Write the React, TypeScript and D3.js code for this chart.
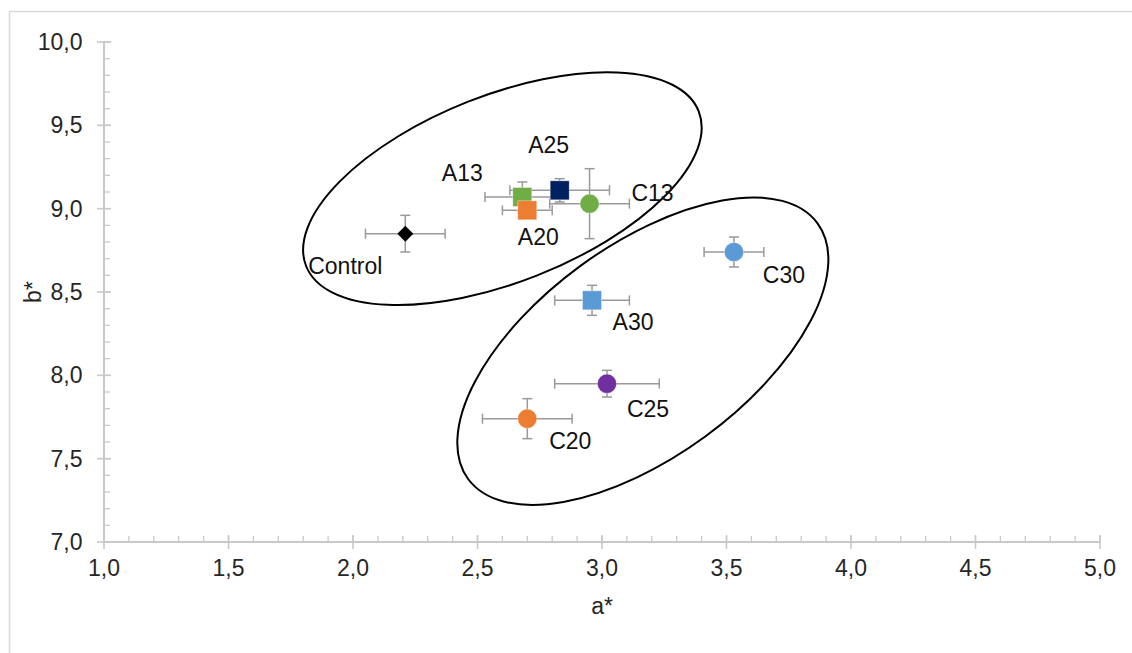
import React from "react";
import * as d3 from "d3";

// Sample names and their CIELab colour coordinates (mean ± SD)
const samples = ["Control", "A13", "A20", "A25", "C13", "A30", "C20", "C25", "C30"];
const aValues = [2.21, 2.68, 2.70, 2.83, 2.95, 2.96, 2.70, 3.02, 3.53];
const bValues = [8.85, 9.07, 8.99, 9.11, 9.03, 8.45, 7.74, 7.95, 8.74];
const aErrors = [0.16, 0.15, 0.10, 0.20, 0.16, 0.15, 0.18, 0.21, 0.12];
const bErrors = [0.11, 0.09, 0.04, 0.07, 0.21, 0.09, 0.12, 0.08, 0.09];

const xTicks = [1.0, 1.5, 2.0, 2.5, 3.0, 3.5, 4.0, 4.5, 5.0];
const yTicks = [7.0, 7.5, 8.0, 8.5, 9.0, 9.5, 10.0];

// Marker look per sample
const shapes = ["diamond", "square", "square", "square", "circle", "square", "circle", "circle", "circle"];
const colors = ["#000000", "#70ad47", "#ed7d31", "#002060", "#70ad47", "#5b9bd5", "#ed7d31", "#7030a0", "#5b9bd5"];
// Label placement relative to each marker (px)
const labelDx = [-60, -60, 11, -11, 63, 41, 43, 41, 50];
const labelDy = [32, -24, 27, -45, -11, 22, 22, 25, 23];

// Grouping outlines: centre in data units, semi-axes in px, rotation in degrees
const groups = [
  { a: 2.6, b: 9.12, rx: 211, ry: 93.5, angle: -21.5 },
  { a: 3.164, b: 8.145, rx: 216.5, ry: 105.7, angle: -36.2 },
];

const W = 1132;
const H = 653;
const fmt = (v: number) => v.toFixed(1).replace(".", ",");

export default function App() {
  const x = d3.scaleLinear().domain([1, 5]).range([104, 1100]);
  const y = d3.scaleLinear().domain([7, 10]).range([542, 42]);
  const minorX = d3.range(1, 5.0001, 0.1).map((v) => +v.toFixed(1));
  const minorY = d3.range(7, 10.0001, 0.1).map((v) => +v.toFixed(1));
  const axisColor = "#c8c8c8";
  const errColor = "#9a9a9a";
  const textColor = "#262626";
  const font = "'Liberation Sans', Arial, sans-serif";
  const cap = 5;

  return (
    <svg
      width={W}
      height={H}
      style={{ position: "absolute", left: 0, top: 0, background: "#fff" }}
      fontFamily={font}
    >
      <rect x={9.5} y={11.5} width={W + 10} height={H + 10} fill="none" stroke="#d9d9d9" strokeWidth={1.5} />

      {/* minor ticks */}
      {minorX.map((v, i) => (
        <line key={"mx" + i} x1={x(v)} x2={x(v)} y1={y(7) - 6} y2={y(7)} stroke={axisColor} strokeWidth={1.3} />
      ))}
      {minorY.map((v, i) => (
        <line key={"my" + i} x1={x(1)} x2={x(1) + 6} y1={y(v)} y2={y(v)} stroke={axisColor} strokeWidth={1.3} />
      ))}
      {/* major ticks */}
      {xTicks.map((v) => (
        <line key={"tx" + v} x1={x(v)} x2={x(v)} y1={y(7) - 7} y2={y(7) + 7} stroke={axisColor} strokeWidth={1.6} />
      ))}
      {yTicks.map((v) => (
        <line key={"ty" + v} x1={x(1) - 7} x2={x(1) + 7} y1={y(v)} y2={y(v)} stroke={axisColor} strokeWidth={1.6} />
      ))}
      {/* axis lines */}
      <line x1={x(1)} x2={x(5)} y1={y(7)} y2={y(7)} stroke={axisColor} strokeWidth={2} />
      <line x1={x(1)} x2={x(1)} y1={y(7)} y2={y(10)} stroke={axisColor} strokeWidth={2} />

      {/* tick labels */}
      {xTicks.map((v) => (
        <text key={"lx" + v} x={x(v)} y={y(7) + 34} textAnchor="middle" fontSize={23} fill={textColor}>
          {fmt(v)}
        </text>
      ))}
      {yTicks.map((v) => (
        <text key={"ly" + v} x={x(1) - 21.5} y={y(v) + 8} textAnchor="end" fontSize={23} fill={textColor}>
          {fmt(v)}
        </text>
      ))}

      {/* axis titles */}
      <text x={(x(1) + x(5)) / 2} y={614} textAnchor="middle" fontSize={23} fill={textColor}>
        a*
      </text>
      <text transform={`translate(41, ${y(8.5)}) rotate(-90)`} textAnchor="middle" fontSize={23} fill={textColor}>
        b*
      </text>

      {/* grouping ellipses */}
      {groups.map((g, i) => (
        <ellipse
          key={"g" + i}
          cx={0}
          cy={0}
          rx={g.rx}
          ry={g.ry}
          transform={`translate(${x(g.a)}, ${y(g.b)}) rotate(${g.angle})`}
          fill="none"
          stroke="#000"
          strokeWidth={2}
        />
      ))}

      {/* error bars */}
      {samples.map((s, i) => {
        const cx = x(aValues[i]);
        const cy = y(bValues[i]);
        const x0 = x(aValues[i] - aErrors[i]);
        const x1 = x(aValues[i] + aErrors[i]);
        const y0 = y(bValues[i] - bErrors[i]);
        const y1 = y(bValues[i] + bErrors[i]);
        return (
          <g key={"e" + s} stroke={errColor} strokeWidth={1.5}>
            <line x1={x0} x2={x1} y1={cy} y2={cy} />
            <line x1={x0} x2={x0} y1={cy - cap} y2={cy + cap} />
            <line x1={x1} x2={x1} y1={cy - cap} y2={cy + cap} />
            <line x1={cx} x2={cx} y1={y0} y2={y1} />
            <line x1={cx - cap} x2={cx + cap} y1={y0} y2={y0} />
            <line x1={cx - cap} x2={cx + cap} y1={y1} y2={y1} />
          </g>
        );
      })}

      {/* markers */}
      {samples.map((s, i) => {
        const cx = x(aValues[i]);
        const cy = y(bValues[i]);
        const c = colors[i];
        if (shapes[i] === "square")
          return <rect key={"m" + s} x={cx - 9.5} y={cy - 9.5} width={19} height={19} fill={c} stroke="#fff" strokeWidth={0.6} strokeOpacity={0.6} />;
        if (shapes[i] === "circle")
          return <circle key={"m" + s} cx={cx} cy={cy} r={9.6} fill={c} stroke="#fff" strokeWidth={0.6} strokeOpacity={0.6} />;
        return (
          <path key={"m" + s} d={`M${cx},${cy - 8}L${cx + 8},${cy}L${cx},${cy + 8}L${cx - 8},${cy}Z`} fill={c} />
        );
      })}

      {/* sample labels */}
      {samples.map((s, i) => (
        <text
          key={"t" + s}
          x={x(aValues[i]) + labelDx[i]}
          y={y(bValues[i]) + labelDy[i]}
          textAnchor="middle"
          dominantBaseline="central"
          fontSize={23}
          fill="#111"
        >
          {s}
        </text>
      ))}
    </svg>
  );
}
